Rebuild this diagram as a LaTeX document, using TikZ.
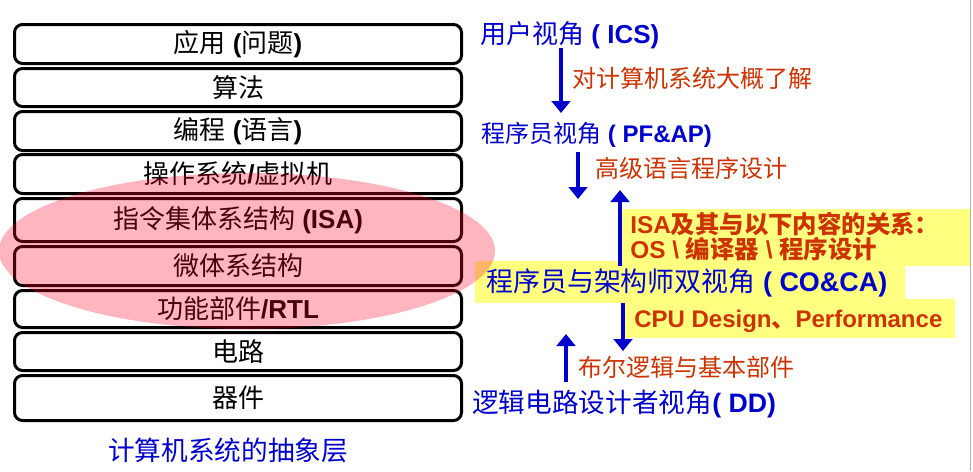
\documentclass[tikz,border=0pt]{standalone}
\usepackage{fontspec}
\setmainfont{Liberation Sans}
\newfontfamily\cjk{Noto Sans CJK SC}
\usetikzlibrary{arrows.meta}
\definecolor{tblue}{RGB}{0,0,204}
\definecolor{tred}{RGB}{204,51,0}
\definecolor{hyel}{RGB}{255,255,128}
\definecolor{epink}{RGB}{255,0,40}
\newcommand\zh[1]{{\cjk #1}}
\newcommand\zhb[1]{{\cjk\bfseries #1}}
\begin{document}
\begin{tikzpicture}[x=0.75pt,y=-0.75pt,
  layer/.style={draw=black, line width=2.25pt, rounded corners=6pt, fill=white,
    minimum width=447*0.75pt, inner sep=0pt, font=\fontsize{19.5}{23}\selectfont},
  view/.style={anchor=west, inner sep=0pt, text=tblue},
  note/.style={anchor=west, inner sep=0pt, text=tred, font=\fontsize{18}{22}\selectfont},
  hl/.style={fill=hyel, draw=none},
  varrow/.style={draw=tblue, line width=3.5pt, -{Triangle[width=14pt,length=9pt]}}]
\useasboundingbox (0,0) rectangle (973,471);
\fill[white] (0,0) rectangle (973,471);

% abstraction layers
\node[layer, minimum height=39*0.75pt] (L1) at (238,44) {\zh{应用} \textbf{(}\zh{问题}\textbf{)}};
\node[layer, minimum height=38*0.75pt] (L2) at (238,87.5) {\zh{算法}};
\node[layer, minimum height=39*0.75pt] (L3) at (238,131) {\zh{编程} \textbf{(}\zh{语言}\textbf{)}};
\node[layer, minimum height=39*0.75pt] (L4) at (238,174) {\zh{操作系统}\textbf{/}\zh{虚拟机}};
\node[layer, minimum height=43*0.75pt] (L5) at (238,220) {\zh{指令集体系结构} \textbf{(ISA)}};
\node[layer, minimum height=39*0.75pt] (L6) at (238,266) {\zh{微体系结构}};
\node[layer, minimum height=37*0.75pt] (L7) at (238,309) {\zh{功能部件}\textbf{/RTL}};
\node[layer, minimum height=38*0.75pt] (L8) at (238,351.5) {\zh{电路}};
\node[layer, minimum height=45*0.75pt] (L9) at (238,398) {\zh{器件}};

\node[inner sep=0pt, text=tblue, font=\fontsize{20}{24}\selectfont] (cap) at (228,450) {\zh{计算机系统的抽象层}};

% highlight boxes
\fill[hl] (620,209) rectangle (970,266);
\fill[hl] (475,261) rectangle (905,303);
\fill[hl] (624,299) rectangle (955,338);

% pink ellipse
\fill[epink, fill opacity=0.29] (247,251) ellipse [x radius=248, y radius=78];

% right-hand views
\node[view, font=\fontsize{19.5}{23}\selectfont] (T1) at (480,35) {\zh{用户视角} \textbf{( ICS)}};
\node[view, font=\fontsize{18}{22}\selectfont] (T2) at (481,135) {\zh{程序员视角} \textbf{( PF\&AP)}};
\node[view, font=\fontsize{20.2}{24}\selectfont] (T4) at (486,283) {\zh{程序员与架构师双视角} \textbf{( CO\&CA)}};
\node[view, font=\fontsize{20}{24}\selectfont] (T3) at (472,404) {\zh{逻辑电路设计者视角}\textbf{( DD)}};

\node[note] (R1) at (572,78) {\zh{对计算机系统大概了解}};
\node[note] (R2) at (595,168) {\zh{高级语言程序设计}};
\node[note] (R3) at (578,367.5) {\zh{布尔逻辑与基本部件}};
\node[note, font=\fontsize{18.3}{22}\selectfont\bfseries] (Y1a) at (630,224) {ISA\zhb{及其与以下内容的关系：}};
\node[note, font=\fontsize{18.3}{22}\selectfont\bfseries] (Y1b) at (630,249) {OS \textbackslash{} \zhb{编译器} \textbackslash{} \zhb{程序设计}};
\node[note, font=\fontsize{18}{22}\selectfont\bfseries] (Y3) at (634,321) {CPU Design\zhb{、}Performance};

% arrows
\coordinate (a1s) at (561,48);  \coordinate (a1e) at (561,113);
\coordinate (a2s) at (578,152); \coordinate (a2e) at (578,199);
\coordinate (a3s) at (620,266); \coordinate (a3e) at (620,190);
\coordinate (a4s) at (623,303); \coordinate (a4e) at (623,351);
\coordinate (a5s) at (566,382); \coordinate (a5e) at (566,334);
\draw[varrow] (a1s) -- (a1e);
\draw[varrow] (a2s) -- (a2e);
\draw[varrow] (a3s) -- (a3e);
\draw[varrow] (a4s) -- (a4e);
\draw[varrow] (a5s) -- (a5e);

% slide border
\coordinate (bt) at (970.5,0); \coordinate (bb) at (970.5,471);
\draw[gray!60, line width=0.75pt] (bt) -- (bb);
\end{tikzpicture}
\end{document}
